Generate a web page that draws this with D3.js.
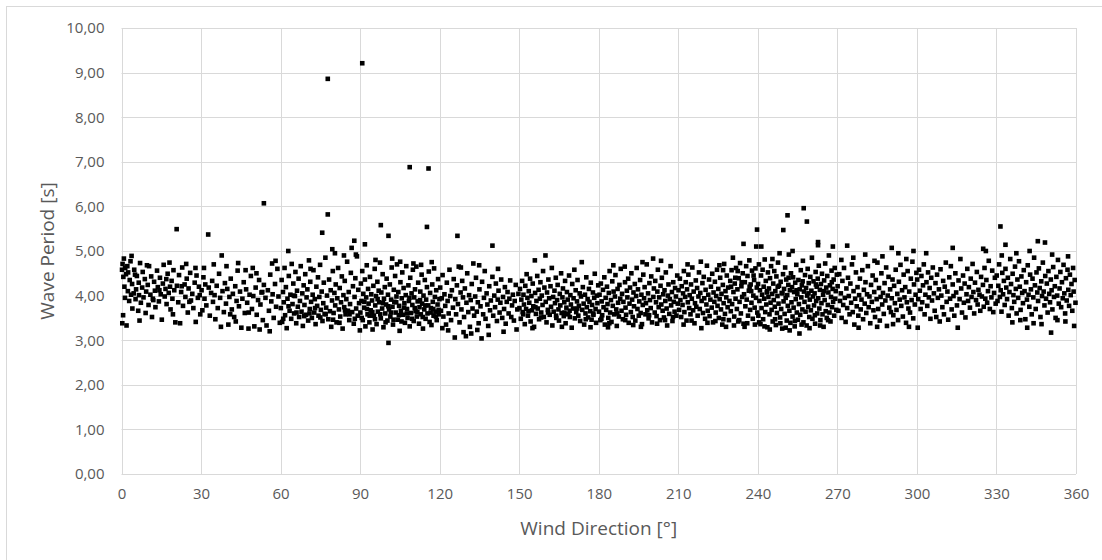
<!DOCTYPE html>
<html>
<head>
<meta charset="utf-8">
<script src="https://cdn.jsdelivr.net/npm/d3@7"></script>
<style>
  html, body { margin: 0; padding: 0; background: #fff; }
  svg { display: block; }
  text { font-family: "Open Sans", sans-serif; fill: #595959; }
</style>
</head>
<body>
<div id="chart"></div>
<script>
"use strict";

/* ── Data: [wind direction °, wave period s], one array per 30° sector ── */
const sector000 = [[0.2,4.58],[0.3,3.38],[0.4,4.71],[0.6,3.56],[0.7,4.42],[0.9,4.83],[1.1,4.20],[1.3,3.95],[1.4,4.62],[1.7,4.48],[1.9,3.33],[2.2,4.66],[2.4,4.10],[2.5,4.52],[2.9,3.88],[3.1,4.35],[3.4,4.77],[3.6,4.02],[3.8,4.89],[4.0,4.26],[4.1,3.71],[4.6,4.05],[4.8,4.58],[5.1,4.47],[5.3,3.92],[5.5,4.14],[5.8,4.44],[6.3,3.66],[6.5,4.29],[6.6,4.01],[6.8,3.44],[7.0,4.73],[7.3,3.84],[7.8,4.18],[8.0,4.53],[8.3,3.96],[8.8,4.37],[9.1,3.61],[9.3,4.09],[9.6,4.68],[9.9,4.24],[10.2,3.79],[10.4,4.66],[10.9,4.02],[11.2,4.43],[11.5,3.52],[11.8,3.93],[12.0,3.90],[12.3,4.31],[12.6,4.11],[12.8,3.74],[13.4,4.56],[13.7,4.19],[14.1,3.87],[14.3,4.12],[14.5,4.40],[14.8,4.03],[15.2,3.46],[15.6,4.27],[15.9,4.69],[16.3,3.98],[16.6,4.15],[16.9,4.37],[17.0,3.81],[17.4,4.49],[17.8,4.06],[18.1,4.74],[18.3,4.20],[18.5,3.69],[18.9,4.33],[19.2,3.93],[19.4,3.58],[19.6,4.57],[19.9,4.12],[20.3,3.40],[20.8,5.49],[20.9,4.22],[21.4,3.85],[21.7,4.46],[22.1,3.38],[22.5,4.08],[22.7,4.21],[22.9,4.63],[23.2,3.77],[23.8,4.25],[24.1,3.97],[24.4,4.71],[24.6,4.38],[25.0,3.62],[25.3,4.16],[25.6,3.86],[25.9,4.51],[26.2,3.89],[26.7,4.04],[27.1,3.72],[27.6,4.29],[27.9,4.62],[28.0,3.41],[28.3,4.45],[28.8,3.95],[29.2,4.20],[29.5,4.01],[29.7,3.58]];

const sector030 = [[30.2,4.12],[30.5,3.67],[30.9,4.41],[31.1,4.62],[31.3,3.93],[31.6,4.25],[32.0,3.78],[32.7,5.37],[32.9,4.18],[33.3,3.55],[33.8,4.06],[34.2,4.33],[34.5,3.86],[34.8,4.70],[35.1,4.01],[35.4,3.47],[35.9,4.22],[36.3,3.72],[36.8,4.49],[37.2,3.95],[37.5,3.30],[37.8,4.90],[38.1,4.10],[38.6,3.63],[39.0,4.28],[39.4,3.82],[39.6,4.66],[39.9,4.15],[40.3,3.35],[40.7,3.97],[41.0,3.58],[41.2,4.38],[41.6,3.69],[42.0,4.04],[42.5,3.52],[42.9,4.21],[43.1,3.42],[43.4,3.88],[43.8,4.56],[44.0,4.73],[44.3,3.76],[44.7,4.09],[45.2,3.28],[45.6,3.93],[46.1,4.30],[46.5,3.61],[46.8,4.57],[47.0,4.14],[47.4,3.84],[47.9,3.26],[48.0,3.62],[48.3,4.02],[48.8,4.44],[49.2,3.70],[49.5,4.62],[49.7,3.99],[50.1,3.31],[50.6,4.18],[50.9,4.50],[51.0,3.57],[51.5,3.90],[51.9,4.35],[52.1,3.24],[52.4,3.80],[52.8,4.07],[53.1,4.08],[53.3,3.45],[53.7,4.24],[53.7,6.07],[54.3,3.95],[54.7,3.33],[55.2,4.12],[55.6,3.66],[55.9,3.20],[56.1,4.47],[56.5,3.87],[56.8,4.72],[57.0,4.03],[57.4,3.50],[57.9,4.26],[58.1,4.78],[58.3,3.75],[58.8,4.60],[59.2,3.98],[59.7,3.39]];

const sector060 = [[60.1,3.72],[60.4,4.35],[60.6,3.41],[60.9,4.08],[61.0,3.48],[61.2,3.85],[61.5,4.62],[61.7,3.56],[62.0,4.19],[62.3,3.27],[62.6,3.93],[62.9,5.00],[63.0,3.76],[63.1,4.44],[63.4,3.66],[63.7,4.02],[64.0,3.48],[64.2,4.71],[64.5,3.81],[64.8,4.27],[65.0,4.00],[65.1,3.60],[65.4,3.99],[65.6,4.53],[65.9,3.38],[66.0,3.62],[66.2,4.11],[66.5,3.75],[66.8,4.38],[67.0,3.52],[67.3,3.88],[67.6,4.66],[67.9,3.64],[68.2,4.05],[68.4,3.32],[68.7,4.23],[68.9,3.54],[69.0,3.79],[69.3,4.48],[69.6,3.57],[69.8,3.96],[70.1,4.14],[70.4,3.44],[70.7,4.79],[70.9,3.60],[71.0,3.70],[71.2,4.31],[71.3,4.60],[71.5,3.86],[71.8,3.50],[72.1,4.02],[72.4,4.57],[72.7,3.62],[72.9,3.92],[73.0,3.72],[73.2,3.36],[73.5,4.20],[73.8,3.77],[74.1,4.41],[74.3,3.55],[74.6,3.97],[74.9,4.69],[75.0,3.51],[75.2,3.68],[75.5,4.09],[75.7,5.41],[75.8,3.43],[76.1,3.83],[76.3,4.29],[76.6,3.59],[76.9,4.85],[77.0,3.58],[77.2,3.73],[77.5,4.00],[77.8,5.82],[77.8,8.86],[78.0,3.47],[78.3,4.36],[78.6,3.65],[78.9,4.12],[79.1,3.30],[79.4,3.89],[79.5,5.04],[79.7,4.55],[79.8,3.46],[80.0,3.61],[80.3,4.06],[80.5,4.95],[80.6,3.78],[80.8,4.25],[81.1,3.40],[81.4,3.94],[81.7,4.62],[82.0,3.69],[82.2,3.39],[82.3,4.17],[82.5,3.53],[82.8,3.85],[83.1,4.43],[83.4,3.26],[83.7,4.01],[83.9,4.90],[84.0,3.74],[84.2,4.33],[84.3,3.67],[84.5,3.58],[84.8,3.92],[85.1,4.76],[85.4,3.66],[85.7,4.08],[85.9,3.45],[86.0,3.58],[86.2,3.81],[86.5,4.51],[86.8,5.07],[87.0,3.63],[87.3,4.21],[87.6,3.37],[87.8,5.23],[87.9,3.97],[88.0,3.48],[88.2,4.39],[88.4,4.92],[88.5,3.71],[88.8,4.88],[89.1,3.55],[89.3,4.13],[89.6,3.83],[89.9,3.22]];

const sector090 = [[90.1,3.62],[90.3,4.27],[90.5,3.88],[90.6,3.50],[90.8,9.21],[90.8,4.55],[91.0,3.45],[91.2,4.04],[91.5,3.73],[91.6,3.86],[91.8,5.15],[91.8,4.36],[92.0,3.31],[92.3,3.96],[92.5,4.68],[92.6,3.70],[92.8,3.58],[93.0,4.15],[93.2,3.82],[93.5,3.40],[93.6,3.55],[93.7,4.42],[94.0,3.67],[94.2,4.03],[94.5,3.89],[94.6,3.63],[94.7,3.24],[95.0,4.22],[95.2,3.55],[95.5,4.60],[95.6,3.47],[95.7,3.78],[95.8,4.80],[96.0,3.99],[96.2,3.36],[96.5,4.31],[96.6,3.92],[96.7,3.64],[97.0,4.11],[97.2,3.85],[97.5,4.74],[97.6,3.58],[97.8,5.58],[97.8,3.49],[98.0,4.07],[98.3,3.71],[98.5,4.48],[98.6,3.83],[98.8,3.29],[99.0,3.93],[99.3,4.19],[99.5,3.60],[99.6,3.40],[99.8,3.80],[100.0,4.38],[100.3,3.44],[100.5,4.02],[100.6,3.76],[100.7,5.34],[100.7,2.94],[100.9,3.69],[101.2,4.25],[101.4,3.53],[101.6,3.62],[101.7,3.91],[101.9,4.63],[102.1,4.83],[102.2,3.75],[102.4,3.35],[102.6,3.46],[102.7,4.13],[102.9,3.86],[103.2,4.44],[103.4,3.62],[103.6,3.85],[103.7,3.98],[103.9,4.70],[104.2,3.46],[104.4,4.08],[104.6,3.56],[104.7,3.77],[104.9,3.21],[105.1,4.76],[105.2,4.30],[105.4,3.66],[105.6,3.42],[105.7,3.94],[105.9,4.52],[106.2,3.57],[106.4,4.17],[106.6,3.73],[106.7,3.83],[106.9,3.39],[107.2,4.01],[107.4,4.66],[107.6,3.60],[107.7,3.70],[107.9,3.50],[108.2,4.23],[108.4,3.88],[108.6,3.95],[108.7,6.88],[108.7,3.31],[108.9,4.40],[109.2,3.61],[109.4,4.05],[109.6,3.48],[109.7,3.79],[109.9,4.58],[110.1,4.72],[110.2,3.43],[110.4,3.96],[110.6,3.72],[110.7,4.14],[110.9,3.65],[111.2,4.65],[111.4,3.53],[111.6,3.63],[111.7,3.87],[111.9,4.29],[112.2,3.37],[112.4,3.74],[112.6,3.90],[112.7,4.09],[112.9,3.58],[113.0,4.69],[113.2,4.47],[113.4,3.82],[113.6,3.52],[113.7,3.26],[113.9,4.00],[114.2,3.69],[114.4,4.35],[114.6,3.78],[114.7,3.48],[114.9,3.91],[115.2,5.54],[115.2,4.19],[115.4,3.60],[115.7,3.78],[115.8,6.85],[115.9,4.54],[116.2,3.41],[116.4,4.06],[116.6,3.62],[116.7,3.72],[116.9,3.34],[117.0,4.75],[117.2,4.25],[117.4,3.86],[117.6,3.70],[117.7,3.55],[117.9,4.61],[118.2,3.97],[118.4,3.64],[118.6,3.53],[118.7,4.12],[118.9,3.45],[119.2,3.80],[119.4,4.37],[119.6,3.68],[119.7,3.58],[119.9,3.92]];

const sector120 = [[120.2,4.18],[120.5,3.66],[120.8,3.94],[121.0,3.27],[121.1,4.46],[121.4,3.53],[121.8,4.03],[122.1,3.77],[122.4,3.35],[122.7,4.29],[123.0,3.88],[123.2,3.22],[123.4,3.60],[123.7,4.58],[124.0,3.99],[124.3,3.45],[124.6,4.12],[125.0,3.73],[125.3,4.37],[125.7,3.06],[125.9,3.92],[126.2,3.58],[126.5,4.23],[126.7,5.34],[126.9,3.81],[127.2,4.65],[127.5,3.40],[127.9,4.07],[128.0,4.63],[128.2,3.69],[128.5,4.33],[128.8,3.96],[129.0,3.18],[129.2,3.52],[129.5,4.16],[129.9,3.09],[130.1,3.84],[130.4,4.50],[130.8,3.63],[131.1,4.01],[131.4,3.30],[131.7,3.90],[131.9,3.15],[132.1,4.26],[132.4,3.71],[132.7,4.72],[133.0,3.55],[133.4,3.98],[133.7,4.40],[134.0,3.64],[134.2,3.23],[134.4,3.85],[134.7,3.38],[134.9,4.68],[135.0,4.14],[135.4,3.76],[135.8,3.04],[136.0,4.31],[136.4,3.58],[136.7,3.95],[137.0,4.55],[137.3,3.48],[137.7,4.05],[138.0,3.80],[138.3,3.32],[138.5,3.12],[138.7,4.21],[139.0,3.67],[139.3,3.89],[139.9,5.12],[139.9,4.42],[140.2,3.55],[140.6,4.00],[140.9,3.74],[141.2,4.27],[141.6,3.43],[141.9,3.91],[142.0,4.60],[142.2,4.11],[142.6,3.62],[142.9,3.84],[143.2,4.36],[143.6,3.50],[143.9,3.97],[144.1,3.19],[144.3,3.70],[144.6,4.19],[144.9,3.37],[145.3,3.86],[145.6,4.08],[146.0,3.60],[146.3,3.93],[146.6,4.34],[147.0,3.52],[147.3,3.78],[147.6,4.02],[148.0,3.44],[148.3,3.88],[148.7,4.24],[149.0,3.24],[149.3,3.69],[149.7,4.04]];

const sector150 = [[150.1,3.72],[150.3,4.15],[150.6,3.48],[150.8,3.91],[151.1,4.33],[151.3,3.63],[151.5,3.58],[151.6,4.02],[151.8,3.80],[152.1,3.36],[152.3,4.22],[152.6,3.70],[152.8,4.48],[153.1,3.95],[153.3,3.55],[153.5,3.65],[153.6,4.10],[153.8,3.84],[154.1,4.38],[154.3,3.42],[154.6,3.99],[154.8,3.67],[155.0,3.27],[155.1,4.27],[155.3,3.76],[155.6,3.30],[155.9,4.79],[156.0,4.06],[156.1,3.74],[156.3,3.59],[156.5,3.88],[156.8,4.44],[157.0,3.71],[157.3,4.13],[157.5,3.47],[157.8,3.93],[158.0,4.30],[158.2,3.51],[158.3,3.62],[158.5,4.00],[158.8,3.79],[159.0,4.55],[159.3,3.52],[159.5,4.18],[159.9,4.90],[160.0,3.86],[160.3,3.40],[160.5,4.07],[160.8,3.68],[160.9,3.62],[161.0,4.36],[161.3,3.94],[161.5,3.57],[161.8,4.21],[162.0,3.75],[162.3,4.62],[162.5,3.33],[162.8,3.97],[163.0,3.64],[163.3,4.11],[163.5,3.83],[163.8,4.40],[163.9,3.55],[164.0,3.50],[164.3,3.90],[164.5,4.24],[164.8,3.69],[165.0,3.44],[165.3,4.04],[165.5,3.78],[165.8,4.50],[166.0,3.61],[166.1,3.30],[166.3,3.96],[166.5,4.16],[166.8,3.54],[167.0,3.85],[167.1,3.62],[167.3,4.33],[167.5,3.38],[167.8,3.73],[168.0,4.08],[168.3,3.91],[168.5,3.58],[168.8,4.45],[169.0,3.66],[169.1,3.52],[169.3,4.01],[169.5,3.80],[169.8,3.28],[170.0,4.26],[170.3,3.71],[170.5,3.94],[170.8,4.58],[171.0,3.49],[171.3,4.12],[171.5,3.63],[171.8,3.87],[171.9,3.71],[172.0,4.35],[172.3,3.55],[172.5,3.77],[172.8,4.05],[173.0,3.43],[173.3,3.98],[173.6,4.75],[173.8,3.68],[174.0,4.19],[174.3,3.82],[174.5,3.35],[174.8,4.02],[175.0,3.60],[175.1,3.47],[175.3,4.41],[175.5,3.74],[175.8,3.92],[176.0,3.51],[176.3,4.15],[176.5,3.86],[176.8,3.65],[176.9,3.29],[177.0,4.29],[177.3,3.46],[177.5,3.79],[177.8,4.07],[177.9,3.60],[178.0,3.57],[178.3,3.95],[178.5,4.49],[178.8,3.70],[179.0,3.39],[179.3,4.00],[179.5,3.83],[179.8,4.23]];

const sector180 = [[180.1,3.64],[180.3,4.02],[180.6,3.45],[180.8,4.27],[181.0,3.48],[181.1,3.87],[181.3,3.56],[181.6,4.13],[181.8,3.74],[182.1,4.41],[182.3,3.35],[182.6,3.95],[182.8,3.68],[183.1,4.20],[183.3,3.81],[183.5,3.29],[183.6,3.50],[183.8,4.06],[184.0,3.38],[184.1,4.55],[184.3,3.62],[184.6,3.90],[184.8,3.41],[185.1,4.32],[185.3,3.77],[185.5,4.68],[185.6,4.09],[185.8,3.58],[186.1,3.98],[186.3,4.46],[186.6,3.69],[186.8,3.32],[187.0,3.60],[187.1,4.15],[187.3,3.84],[187.6,3.53],[187.8,4.24],[188.1,3.93],[188.3,4.60],[188.6,3.66],[188.8,4.04],[189.1,3.47],[189.3,3.86],[189.8,4.65],[189.9,4.30],[190.0,3.45],[190.1,3.73],[190.3,3.57],[190.6,4.11],[190.8,3.96],[191.1,4.38],[191.3,3.39],[191.6,3.82],[191.8,4.18],[192.1,3.63],[192.3,4.50],[192.6,3.91],[192.8,3.52],[193.0,3.34],[193.1,4.07],[193.3,3.76],[193.6,4.26],[193.8,3.44],[194.1,3.99],[194.3,4.62],[194.6,3.70],[194.8,4.14],[195.1,3.55],[195.3,3.87],[195.6,4.35],[195.8,3.61],[195.9,3.30],[196.1,4.02],[196.3,3.36],[196.5,4.75],[196.6,3.79],[196.8,4.47],[197.1,3.94],[197.3,4.19],[197.6,3.58],[197.8,3.83],[198.1,4.70],[198.3,3.67],[198.6,4.05],[198.8,3.49],[199.0,3.56],[199.1,4.28],[199.3,3.90],[199.6,3.72],[199.8,4.43],[200.1,3.40],[200.5,4.83],[200.6,3.97],[200.8,4.16],[201.1,3.62],[201.3,4.33],[201.6,3.85],[201.8,3.54],[202.0,3.37],[202.1,4.09],[202.3,4.58],[202.6,3.74],[202.8,3.96],[203.1,3.45],[203.3,4.22],[203.5,4.78],[203.6,3.80],[203.8,4.40],[204.1,3.66],[204.3,4.03],[204.6,3.51],[204.8,4.12],[205.0,3.45],[205.1,3.88],[205.3,4.52],[205.6,3.71],[205.8,3.33],[206.1,4.00],[206.3,4.25],[206.6,3.59],[206.8,3.92],[207.1,4.66],[207.3,3.78],[207.6,4.08],[207.8,3.43],[208.0,3.52],[208.1,4.30],[208.3,3.86],[208.6,3.64],[208.8,4.17],[209.1,3.98],[209.3,3.55],[209.6,4.45],[209.8,3.82]];

const sector210 = [[210.1,4.12],[210.3,3.68],[210.6,4.38],[210.8,3.90],[211.1,3.52],[211.3,4.21],[211.6,3.79],[211.8,4.05],[212.0,3.35],[212.1,4.55],[212.3,3.63],[212.6,3.97],[212.8,4.30],[213.1,3.44],[213.3,4.14],[213.5,4.70],[213.6,3.85],[213.8,4.47],[214.1,3.72],[214.3,4.01],[214.6,3.58],[214.8,4.25],[215.0,3.44],[215.1,3.93],[215.3,4.63],[215.6,3.67],[215.8,4.09],[216.1,3.38],[216.3,3.83],[216.6,4.34],[216.8,3.75],[217.1,4.17],[217.3,3.55],[217.6,3.98],[217.8,4.52],[218.1,3.70],[218.3,4.06],[218.5,4.76],[218.7,3.27],[218.8,3.88],[219.1,4.28],[219.3,3.61],[219.6,4.42],[219.8,3.94],[220.1,3.48],[220.3,4.13],[220.6,3.80],[220.8,4.67],[221.0,3.39],[221.1,3.66],[221.3,4.02],[221.6,4.36],[221.8,3.54],[222.1,3.91],[222.3,4.20],[222.6,3.73],[222.8,4.49],[223.1,3.40],[223.3,4.07],[223.6,3.86],[223.8,4.31],[224.0,3.43],[224.1,3.62],[224.3,3.99],[224.6,4.58],[224.8,3.77],[225.1,4.15],[225.3,3.50],[225.5,4.68],[225.6,3.92],[225.8,4.40],[226.1,3.69],[226.3,4.04],[226.6,3.35],[226.8,4.24],[226.9,4.57],[227.0,3.47],[227.1,3.83],[227.3,4.71],[227.6,3.59],[227.8,4.10],[228.0,3.30],[228.1,3.96],[228.3,4.45],[228.6,3.74],[228.8,4.18],[229.1,3.45],[229.3,3.88],[229.6,4.33],[229.8,3.65],[229.9,4.20],[230.1,4.57],[230.3,3.81],[230.6,4.85],[230.8,4.08],[231.0,3.33],[231.1,3.53],[231.3,4.27],[231.5,4.40],[231.6,3.93],[231.8,4.62],[232.1,3.70],[232.3,4.14],[232.4,4.55],[232.6,3.42],[232.8,4.39],[233.0,3.45],[233.1,3.86],[233.3,4.73],[233.6,3.60],[233.8,4.21],[233.9,4.30],[234.1,3.97],[234.3,4.50],[234.6,5.16],[234.6,3.37],[234.8,4.03],[235.0,3.30],[235.1,4.30],[235.3,3.76],[235.6,4.66],[235.8,3.91],[236.0,3.38],[236.1,4.44],[236.3,3.55],[236.6,4.11],[236.8,4.79],[236.9,4.20],[237.1,3.68],[237.3,4.25],[237.5,4.10],[237.6,3.84],[237.8,4.56],[238.1,3.48],[238.3,4.00],[238.4,4.45],[238.6,4.35],[238.8,3.73],[238.9,3.35],[239.1,4.61],[239.3,3.95],[239.4,5.10],[239.6,4.18],[239.7,5.48],[239.8,3.62]];

const sector240 = [[240.1,4.26],[240.2,3.55],[240.4,4.70],[240.5,3.40],[240.6,3.88],[240.8,4.12],[241.0,3.36],[241.2,4.45],[241.3,5.10],[241.4,3.72],[241.6,4.02],[241.8,4.58],[242.0,3.47],[242.2,4.20],[242.4,3.93],[242.5,3.31],[242.6,4.81],[242.8,3.63],[243.0,4.33],[243.2,3.80],[243.4,4.07],[243.5,4.10],[243.6,3.29],[243.8,4.52],[244.0,3.97],[244.2,4.16],[244.4,3.58],[244.5,3.24],[244.6,4.39],[244.8,3.84],[245.0,4.66],[245.2,3.68],[245.4,4.04],[245.5,4.82],[245.6,3.42],[245.8,4.27],[246.0,3.90],[246.2,4.55],[246.4,3.75],[246.5,3.47],[246.6,4.10],[246.8,3.34],[247.0,4.43],[247.2,3.61],[247.4,3.99],[247.5,4.20],[247.6,4.74],[247.8,3.82],[248.0,4.22],[248.2,4.95],[248.4,3.51],[248.5,3.38],[248.6,4.31],[248.8,3.70],[249.0,4.06],[249.2,3.26],[249.3,4.05],[249.5,4.48],[249.6,5.47],[249.7,3.87],[249.9,4.15],[250.1,3.59],[250.3,4.63],[250.5,3.28],[250.5,3.95],[250.7,4.36],[250.9,3.44],[251.1,4.01],[251.2,5.80],[251.3,3.77],[251.5,4.24],[251.6,4.40],[251.7,4.92],[251.9,3.66],[252.0,3.22],[252.1,4.12],[252.3,3.39],[252.5,4.50],[252.7,3.85],[252.9,4.19],[253.1,5.00],[253.1,3.53],[253.3,4.41],[253.5,3.73],[253.7,4.08],[253.9,3.31],[254.0,3.43],[254.1,4.29],[254.3,3.92],[254.5,4.69],[254.6,4.12],[254.7,3.62],[254.9,4.03],[255.1,3.46],[255.3,4.35],[255.5,3.81],[255.7,3.15],[255.8,4.14],[256.0,3.57],[256.2,4.57],[256.4,3.96],[256.5,3.35],[256.6,4.23],[256.8,3.69],[256.9,4.32],[257.0,4.78],[257.2,3.40],[257.3,5.96],[257.4,4.09],[257.6,3.86],[257.8,4.46],[258.0,3.64],[258.2,4.17],[258.4,3.33],[258.5,5.66],[258.6,4.00],[258.8,4.60],[259.0,3.75],[259.1,4.05],[259.2,4.28],[259.4,3.52],[259.5,3.27],[259.6,3.91],[259.8,4.42],[260.0,3.67],[260.2,4.11],[260.4,4.85],[260.6,3.48],[260.8,3.98],[261.0,4.32],[261.2,3.78],[261.4,4.05],[261.5,3.56],[261.6,3.37],[261.8,4.53],[261.9,4.25],[262.0,3.88],[262.2,4.20],[262.4,3.60],[262.6,4.38],[262.7,5.20],[262.7,5.13],[262.8,3.94],[263.0,4.67],[263.2,3.71],[263.4,4.13],[263.5,3.33],[263.6,3.45],[263.8,4.26],[264.0,3.83],[264.2,4.49],[264.4,3.58],[264.6,4.02],[264.8,3.30],[264.9,4.10],[265.0,4.34],[265.2,3.90],[265.4,4.72],[265.6,3.65],[265.8,4.18],[266.0,3.50],[266.2,4.44],[266.4,3.79],[266.5,3.45],[266.6,4.07],[266.8,4.90],[267.0,3.62],[267.2,4.23],[267.4,3.42],[267.6,3.97],[267.8,4.56],[267.9,4.30],[268.0,3.74],[268.2,4.15],[268.3,5.10],[268.4,3.86],[268.6,4.36],[268.8,3.55],[269.0,4.62],[269.2,3.93],[269.4,4.10],[269.6,3.68],[269.8,4.47]];

const sector270 = [[270.1,4.21],[270.4,3.66],[270.7,4.48],[271.0,3.88],[271.3,4.05],[271.5,4.80],[271.6,3.50],[271.9,4.33],[272.2,3.79],[272.5,4.62],[272.8,3.95],[273.1,3.41],[273.4,4.16],[273.7,5.12],[273.7,3.72],[274.0,4.40],[274.3,3.99],[274.6,3.58],[274.9,4.27],[275.2,3.84],[275.5,4.70],[275.8,3.63],[276.0,4.85],[276.1,4.10],[276.4,3.35],[276.7,3.93],[277.0,4.52],[277.3,3.76],[277.6,4.19],[277.9,3.55],[278.0,3.28],[278.2,4.01],[278.5,4.38],[278.8,3.69],[279.1,3.91],[279.4,4.57],[279.7,3.47],[280.0,4.13],[280.3,3.82],[280.5,4.92],[280.6,4.30],[280.9,3.61],[281.2,4.03],[281.5,4.66],[281.8,3.74],[282.1,3.98],[282.4,3.38],[282.7,4.24],[283.0,3.86],[283.3,4.45],[283.6,3.67],[283.9,4.08],[284.0,4.78],[284.2,3.52],[284.5,4.35],[284.8,3.92],[285.0,3.30],[285.1,4.74],[285.4,3.70],[285.7,4.17],[286.0,3.44],[286.3,3.97],[286.6,4.50],[286.9,3.80],[287.0,4.88],[287.2,4.06],[287.5,3.59],[287.8,4.28],[288.1,3.89],[288.4,4.63],[288.7,3.32],[289.0,4.00],[289.3,4.42],[289.6,3.73],[289.9,4.14],[290.2,3.63],[290.5,5.07],[290.5,3.94],[290.8,4.36],[291.0,3.36],[291.1,3.56],[291.4,4.22],[291.7,3.83],[292.0,4.58],[292.3,3.68],[292.6,4.04],[292.9,3.45],[293.0,4.95],[293.2,4.31],[293.5,3.91],[293.8,4.69],[294.1,3.77],[294.4,4.12],[294.7,3.53],[295.0,4.47],[295.3,3.96],[295.6,4.19],[295.9,3.39],[296.0,4.82],[296.2,3.85],[296.5,4.55],[296.8,3.71],[297.0,3.30],[297.1,4.09],[297.4,3.62],[297.7,4.38],[298.0,3.90],[298.3,4.76],[298.6,3.49],[298.7,5.00],[298.9,4.25],[299.2,3.80],[299.5,4.02],[299.8,4.51]];

const sector300 = [[300.1,4.36],[300.3,3.28],[300.5,3.92],[300.8,4.58],[301.1,4.11],[301.4,3.70],[301.7,4.44],[302.0,3.85],[302.3,4.23],[302.6,4.70],[302.9,3.58],[303.2,4.02],[303.5,4.95],[303.6,4.30],[303.9,3.77],[304.2,4.52],[304.5,3.96],[304.8,4.17],[305.1,3.48],[305.4,4.40],[305.7,3.89],[306.0,4.63],[306.4,4.05],[306.7,3.66],[307.0,4.28],[307.3,3.52],[307.6,4.47],[307.9,3.95],[308.3,4.14],[308.6,3.42],[308.9,4.59],[309.2,4.00],[309.6,3.74],[309.9,4.33],[310.2,3.58],[310.5,4.20],[310.9,4.74],[311.2,3.86],[311.5,4.09],[311.8,3.46],[312.2,4.41],[312.5,3.93],[312.8,4.66],[313.1,3.69],[313.5,5.07],[313.5,4.25],[313.8,3.99],[314.1,3.55],[314.5,4.50],[314.8,4.07],[315.1,3.78],[315.4,3.28],[315.7,4.34],[316.1,3.92],[316.4,4.82],[316.7,4.16],[317.0,3.62],[317.4,4.45],[317.7,3.84],[318.0,4.27],[318.3,3.51],[318.7,4.03],[319.0,4.60],[319.3,3.88],[319.6,4.19],[320.0,3.73],[320.3,4.38],[320.6,3.97],[321.0,4.71],[321.3,4.08],[321.6,3.60],[321.9,4.29],[322.3,3.90],[322.6,4.53],[322.9,3.80],[323.2,4.13],[323.6,4.02],[323.9,3.66],[324.2,4.42],[324.5,3.98],[324.9,4.24],[325.0,5.05],[325.2,3.75],[325.5,4.62],[325.8,3.93],[326.0,5.00],[326.2,4.35],[326.5,3.84],[326.8,4.10],[327.1,4.78],[327.5,3.70],[327.8,4.21],[328.1,3.96],[328.4,4.56],[328.8,3.63],[329.1,4.06],[329.4,4.40],[329.7,3.82]];

const sector330 = [[330.1,4.45],[330.4,3.88],[330.7,4.22],[331.0,4.70],[331.3,3.97],[331.5,5.55],[331.6,4.12],[331.9,3.64],[332.0,4.90],[332.2,4.51],[332.5,4.03],[332.8,4.33],[333.1,3.79],[333.4,5.14],[333.4,4.60],[333.7,4.18],[334.0,3.92],[334.3,4.40],[334.6,3.55],[334.9,4.08],[335.2,4.82],[335.5,4.26],[335.8,3.72],[336.0,3.40],[336.1,4.49],[336.4,4.01],[336.7,3.86],[337.0,4.65],[337.3,4.15],[337.5,4.95],[337.6,3.60],[337.9,4.36],[338.2,3.95],[338.5,4.77],[338.8,4.20],[339.0,3.45],[339.1,3.68],[339.4,4.43],[339.7,4.06],[340.0,3.83],[340.3,4.57],[340.6,4.10],[340.9,3.47],[341.2,4.30],[341.5,3.91],[341.6,3.28],[341.8,4.68],[342.1,4.02],[342.4,3.75],[342.5,5.00],[342.7,4.47],[343.0,4.14],[343.3,3.58],[343.6,4.38],[343.9,3.96],[344.0,3.38],[344.2,4.85],[344.5,4.23],[344.8,3.70],[345.1,4.52],[345.4,4.07],[345.6,5.22],[345.7,3.88],[346.0,4.61],[346.3,4.17],[346.6,3.52],[346.9,4.32],[347.0,3.36],[347.2,3.99],[347.5,4.74],[347.8,4.09],[348.1,3.78],[348.3,5.19],[348.4,4.44],[348.7,3.93],[349.0,4.27],[349.3,3.62],[349.6,4.55],[349.9,4.04],[350.2,3.85],[350.5,4.36],[350.6,3.17],[350.8,4.12],[351.0,4.92],[351.1,3.69],[351.4,4.64],[351.7,3.97],[352.0,4.21],[352.3,3.50],[352.6,4.42],[352.9,4.00],[353.0,3.45],[353.2,4.80],[353.5,3.82],[353.8,4.16],[354.1,4.53],[354.4,3.74],[354.7,4.30],[355.0,3.94],[355.3,4.69],[355.6,4.05],[355.9,3.60],[356.0,3.42],[356.2,4.39],[356.5,3.89],[356.8,4.58],[357.0,4.88],[357.1,4.13],[357.4,3.77],[357.7,4.47],[358.0,4.01],[358.3,4.26],[358.6,3.66],[358.9,4.62],[359.1,4.09],[359.3,3.32],[359.5,4.35],[359.8,3.84]];

const xTicks = [0, 30, 60, 90, 120, 150, 180, 210, 240, 270, 300, 330, 360];
const yTicks = [0, 1, 2, 3, 4, 5, 6, 7, 8, 9, 10];
const xTitle = "Wind Direction [°]";
const yTitle = "Wave Period [s]";

const points = [].concat(
  sector000, sector030, sector060, sector090, sector120, sector150,
  sector180, sector210, sector240, sector270, sector300, sector330
);

/* ── Dimensions ── */
const W = 1102, H = 560;
const plot = { left: 121.5, right: 1076, top: 28, bottom: 474 };
const GRID = "#d9d9d9";

const svg = d3.select("#chart").append("svg")
  .attr("width", W)
  .attr("height", H);

/* outer chart frame (right / bottom edges fall outside the window) */
svg.append("rect")
  .attr("x", 6.5).attr("y", 6.5)
  .attr("width", W + 20).attr("height", H + 20)
  .attr("fill", "none")
  .attr("stroke", GRID);

/* ── Scales ── */
const x = d3.scaleLinear().domain([0, 360]).range([plot.left, plot.right]);
const y = d3.scaleLinear().domain([0, 10]).range([plot.bottom, plot.top]);
const fmt = v => d3.format(".2f")(v).replace(".", ",");

/* ── Gridlines ── */
svg.append("g")
  .selectAll("line.vgrid")
  .data(xTicks)
  .join("line")
  .attr("class", "vgrid")
  .attr("x1", d => Math.round(x(d)) + 0.5).attr("x2", d => Math.round(x(d)) + 0.5)
  .attr("y1", plot.top).attr("y2", plot.bottom)
  .attr("stroke", GRID).attr("stroke-width", 1);

svg.append("g")
  .selectAll("line.hgrid")
  .data(yTicks)
  .join("line")
  .attr("class", "hgrid")
  .attr("x1", plot.left).attr("x2", plot.right)
  .attr("y1", d => Math.round(y(d)) + 0.5).attr("y2", d => Math.round(y(d)) + 0.5)
  .attr("stroke", GRID).attr("stroke-width", 1);

/* ── Axes (labels only, Excel style) ── */
const yAxis = svg.append("g")
  .attr("transform", `translate(${plot.left},0)`)
  .call(d3.axisLeft(y).tickValues(yTicks).tickFormat(fmt).tickSize(0).tickPadding(17));
yAxis.select(".domain").remove();
yAxis.selectAll("text")
  .attr("font-family", "'Open Sans', sans-serif")
  .attr("font-size", "15px")
  .attr("fill", "#595959");

const xAxis = svg.append("g")
  .attr("transform", `translate(0,${plot.bottom})`)
  .call(d3.axisBottom(x).tickValues(xTicks).tickFormat(d3.format("d")).tickSize(0).tickPadding(14));
xAxis.select(".domain").remove();
xAxis.selectAll("text")
  .attr("font-family", "'Open Sans', sans-serif")
  .attr("font-size", "15px")
  .attr("fill", "#595959");

/* ── Markers ── */
const S = 4.6;
svg.append("g")
  .selectAll("rect.pt")
  .data(points)
  .join("rect")
  .attr("class", "pt")
  .attr("x", d => x(d[0]) - S / 2)
  .attr("y", d => y(d[1]) - S / 2)
  .attr("width", S).attr("height", S)
  .attr("fill", "#000");

/* ── Axis titles ── */
svg.append("text")
  .attr("x", (plot.left + plot.right) / 2)
  .attr("y", 535)
  .attr("text-anchor", "middle")
  .attr("font-size", "19px")
  .text(xTitle);

svg.append("text")
  .attr("transform", `translate(54,${(plot.top + plot.bottom) / 2}) rotate(-90)`)
  .attr("text-anchor", "middle")
  .attr("font-size", "19px")
  .text(yTitle);
</script>
</body>
</html>
